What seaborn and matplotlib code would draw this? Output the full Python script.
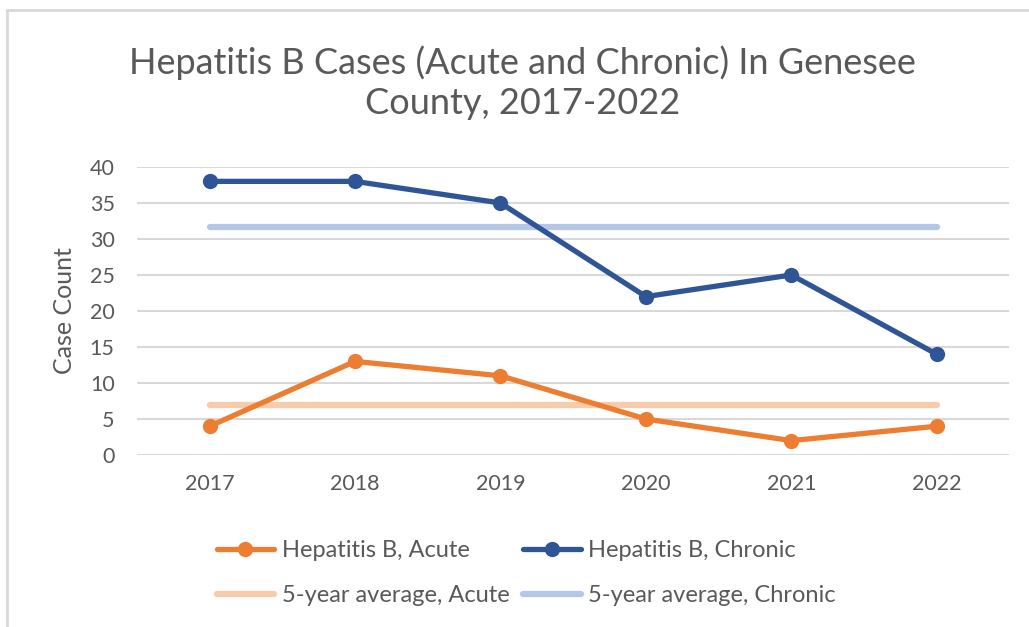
"""
hepatitis_b.py
line chart of acute and chronic hepatitis B cases, Genesee County
"""
import matplotlib
matplotlib.use("Agg")
import matplotlib.pyplot as plt
import seaborn as sns
import pandas as pd

# data
years = ["2017", "2018", "2019", "2020", "2021", "2022"]
acute = [4, 13, 11, 5, 2, 4]
chronic = [38, 38, 35, 22, 25, 14]
avg_acute = 7.0
avg_chronic = 31.6
y_ticks = [0, 5, 10, 15, 20, 25, 30, 35, 40]

text_grey = "#595959"

sns.set_style("white")
plt.rcParams['font.family'] = ['Lato', 'DejaVu Sans']

df = pd.DataFrame({
    "Year": years,
    "Acute": acute,
    "Chronic": chronic,
    "AvgAcute": [avg_acute] * len(years),
    "AvgChronic": [avg_chronic] * len(years),
})

fig = plt.figure(figsize=(10.29, 6.27), dpi=100)
ax = fig.add_axes([0.133, 0.2743, 0.848, 0.4594])

# average lines first so the case lines sit on top
sns.lineplot(data=df, x="Year", y="AvgAcute", ax=ax, color="#F8CBAD", lw=4.5,
             solid_capstyle="round", label="5-year average, Acute", sort=False)
sns.lineplot(data=df, x="Year", y="AvgChronic", ax=ax, color="#B4C7E7", lw=4.5,
             solid_capstyle="round", label="5-year average, Chronic", sort=False)
sns.lineplot(data=df, x="Year", y="Acute", ax=ax, color="#ED7D31", lw=3.8,
             marker="o", markersize=11, markeredgewidth=0,
             label="Hepatitis B, Acute", sort=False)
sns.lineplot(data=df, x="Year", y="Chronic", ax=ax, color="#2F5597", lw=3.8,
             marker="o", markersize=11, markeredgewidth=0,
             label="Hepatitis B, Chronic", sort=False)

ax.set_xlim(-0.5, len(years) - 0.5)
ax.set_ylim(0, 40)
ax.set_yticks(y_ticks)
ax.grid(axis="y", color="#D9D9D9", lw=1.5)
ax.set_axisbelow(True)
for s in ax.spines.values():
    s.set_visible(False)
ax.tick_params(axis="both", length=0, labelsize=15.5, labelcolor=text_grey)
ax.tick_params(axis="x", pad=14)
ax.tick_params(axis="y", pad=16)
ax.set_xlabel("")
ax.set_ylabel("Case Count", fontsize=18, color=text_grey, labelpad=10)

# legend: two rows, two columns (column-major fill)
h, l = ax.get_legend_handles_labels()
order = [2, 0, 3, 1]
ax.legend([h[i] for i in order], [l[i] for i in order], ncol=2,
          loc="upper left", bbox_to_anchor=(0.067, -0.222), frameon=False,
          fontsize=17, labelcolor=text_grey, handlelength=2.45,
          handletextpad=0.3, columnspacing=0.6, labelspacing=1.0)

fig.text(0.508, 0.868, "Hepatitis B Cases (Acute and Chronic) In Genesee\nCounty, 2017-2022",
         ha="center", va="center", fontsize=26, color=text_grey, linespacing=1.25)

# chart frame border like the screenshot
fig.add_artist(plt.Line2D([7 / 1029, 1], [1 - 10 / 627, 1 - 10 / 627],
                          color="#D9D9D9", lw=2, transform=fig.transFigure))
fig.add_artist(plt.Line2D([7 / 1029, 7 / 1029], [0, 1 - 10 / 627],
                          color="#D9D9D9", lw=2, transform=fig.transFigure))

fig.savefig("out.png", dpi=100)
